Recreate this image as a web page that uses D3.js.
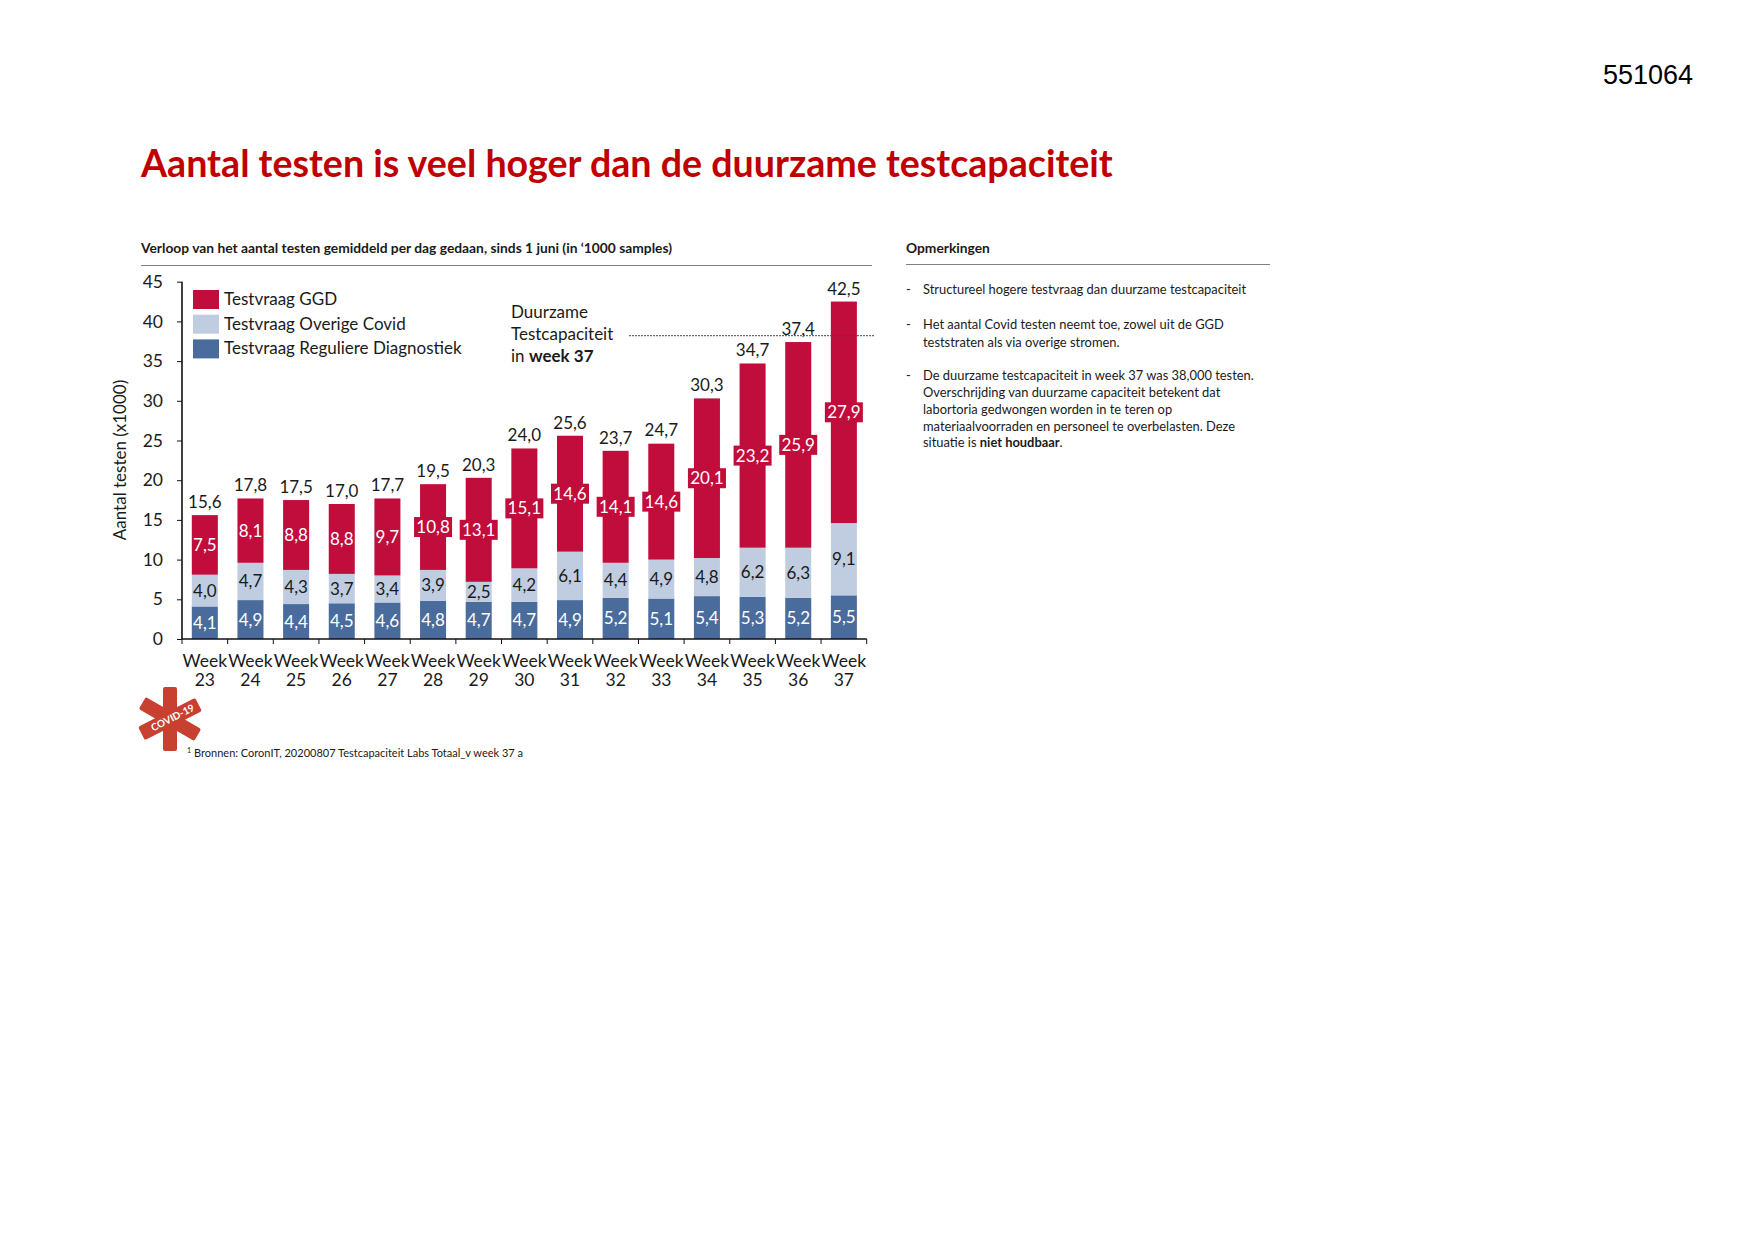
<!DOCTYPE html>
<html><head><meta charset="utf-8">
<script src="https://cdn.jsdelivr.net/npm/d3@7"></script>
<style>
html,body{margin:0;padding:0;background:#fff}
svg{display:block}
text{font-family:Lato,Carlito,"Noto Sans",sans-serif;fill:#1a1a1a}
</style></head><body><svg id="c" width="1754" height="1241"></svg>
<script>
const weeks=["23","24","25","26","27","28","29","30","31","32","33","34","35","36","37"];
const regulier=[4.1,4.9,4.4,4.5,4.6,4.8,4.7,4.7,4.9,5.2,5.1,5.4,5.3,5.2,5.5];
const overig=[4.0,4.7,4.3,3.7,3.4,3.9,2.5,4.2,6.1,4.4,4.9,4.8,6.2,6.3,9.1];
const ggd=[7.5,8.1,8.8,8.8,9.7,10.8,13.1,15.1,14.6,14.1,14.6,20.1,23.2,25.9,27.9];
const totals=[15.6,17.8,17.5,17.0,17.7,19.5,20.3,24.0,25.6,23.7,24.7,30.3,34.7,37.4,42.5];
const capacity=38.2;
const yTicks=[0,5,10,15,20,25,30,35,40,45];
const seriesNames=["Testvraag GGD","Testvraag Overige Covid","Testvraag Reguliere Diagnostiek"];
const seriesColors=["#c00d3b","#c0cce0","#4a6c9c"];
const notes=[
 [[["Structureel hogere testvraag dan duurzame testcapaciteit",0]]],
 [[["Het aantal Covid testen neemt toe, zowel uit de GGD",0]],[["teststraten als via overige stromen.",0]]],
 [[["De duurzame testcapaciteit in week 37 was 38,000 testen.",0]],[["Overschrijding van duurzame capaciteit betekent dat",0]],[["labortoria gedwongen worden in te teren op",0]],[["materiaalvoorraden en personeel te overbelasten. Deze",0]],[["situatie is ",0],["niet houdbaar",1],[".",0]]]
];

const svg=d3.select("#c");
const fmt=v=>d3.format(".1f")(v).replace(".",",");
const x=d3.scaleBand().domain(weeks).range([182,866.7]).paddingInner(0.43).paddingOuter(0.215);
const y=d3.scaleLinear().domain([0,45]).range([639,281.7]);

// headings
svg.append("text").attr("x",1603).attr("y",84).style("font-family","'Liberation Sans',Arial,sans-serif").attr("font-size",27).style("fill","#000").text("551064");
svg.append("text").attr("x",141).attr("y",177).attr("font-size",37.6).attr("font-weight",700).style("fill","#c00000").text("Aantal testen is veel hoger dan de duurzame testcapaciteit");
svg.append("text").attr("x",141).attr("y",253).attr("font-size",13.8).attr("font-weight",700).text("Verloop van het aantal testen gemiddeld per dag gedaan, sinds 1 juni (in ‘1000 samples)");
svg.append("line").attr("x1",141).attr("x2",872).attr("y1",265.5).attr("y2",265.5).attr("stroke","#808080");
svg.append("text").attr("x",906).attr("y",253).attr("font-size",13.8).attr("font-weight",700).text("Opmerkingen");
svg.append("line").attr("x1",906).attr("x2",1270).attr("y1",264.5).attr("y2",264.5).attr("stroke","#808080");

// stacked bars
const rows=weeks.map((w,i)=>({week:w,r:regulier[i],o:overig[i],g:ggd[i],t:totals[i]}));
const stack=d3.stack().keys(["r","o","g"])(rows);
const colorOf={r:seriesColors[2],o:seriesColors[1],g:seriesColors[0]};
const layers=svg.append("g").selectAll("g").data(stack).join("g").attr("fill",d=>colorOf[d.key]);
layers.selectAll("rect").data(d=>d).join("rect")
 .attr("x",d=>x(d.data.week)).attr("width",x.bandwidth())
 .attr("y",d=>y(d[1])).attr("height",d=>y(d[0])-y(d[1]));

// axes
const ay=svg.append("g").attr("transform","translate(182,0)").call(d3.axisLeft(y).tickValues(yTicks).tickSize(5).tickPadding(14));
const tickEdges=d3.range(16);
const xEdge=d3.scaleLinear().domain([0,15]).range([182,866.7]);
ay.selectAll("text").attr("font-size",17.5).style("font-family","Lato");
ay.select(".domain").attr("stroke","#111").attr("stroke-width",1.6).attr("d","M0,281.7V639");
ay.selectAll(".tick line").attr("stroke","#111");
const ax=svg.append("g");
ax.append("line").attr("x1",182).attr("x2",866.7).attr("y1",639).attr("y2",639).attr("stroke","#111").attr("stroke-width",1.6);
ax.selectAll(".t").data(tickEdges).join("line").attr("class","t").attr("x1",d=>xEdge(d)).attr("x2",d=>xEdge(d)).attr("y1",639).attr("y2",644).attr("stroke","#111");
const wk=svg.append("g").attr("font-size",17.5).attr("text-anchor","middle");
weeks.forEach(w=>{
 const cx=x(w)+x.bandwidth()/2;
 wk.append("text").attr("x",cx).attr("y",667).text("Week");
 wk.append("text").attr("x",cx).attr("y",686).text(w);
});
svg.append("text").attr("transform","translate(126,460) rotate(-90)").attr("text-anchor","middle").attr("font-size",17).text("Aantal testen (x1000)");

// segment labels
const lab=svg.append("g").attr("font-size",17).attr("text-anchor","middle");
stack.forEach(layer=>{
 layer.forEach(d=>{
  const cx=x(d.data.week)+x.bandwidth()/2, cy=y((d[0]+d[1])/2), v=d[1]-d[0];
  const val=d.data[layer.key];
  if(layer.key==="g"&&val>=10){
   lab.append("rect").attr("x",cx-19).attr("y",cy-10).attr("width",38).attr("height",20).attr("fill",seriesColors[0]);
  }
  lab.append("text").attr("x",cx).attr("y",cy+6).style("fill",layer.key==="o"?"#1a1a1a":"#fff").text(fmt(val));
 });
});

// totals
svg.append("g").attr("font-size",17).attr("text-anchor","middle").selectAll("text").data(rows).join("text")
 .attr("x",d=>x(d.week)+x.bandwidth()/2).attr("y",d=>y(d.t)-7).text(d=>fmt(d.t));

// capacity line
svg.append("line").attr("x1",629).attr("x2",874).attr("y1",y(capacity)).attr("y2",y(capacity)).attr("stroke","#444").attr("stroke-width",1).attr("stroke-dasharray","2,1");
const cap=svg.append("g").attr("font-size",17);
cap.append("text").attr("x",511).attr("y",318).text("Duurzame");
cap.append("text").attr("x",511).attr("y",340).text("Testcapaciteit");
const c3=cap.append("text").attr("x",511).attr("y",362);
c3.append("tspan").text("in ");
c3.append("tspan").attr("font-weight",700).text("week 37");

// legend
const lg=svg.append("g").selectAll("g").data(seriesNames).join("g").attr("transform",(d,i)=>`translate(193,${290+i*24.7})`);
lg.append("rect").attr("width",26).attr("height",19).attr("fill",(d,i)=>seriesColors[i]);
lg.append("text").attr("x",31).attr("y",15).attr("font-size",17).text(d=>d);

// notes
const baselines=[[294],[329,347],[380,397,414,431,447]];
const nt=svg.append("g").attr("font-size",12.9);
notes.forEach((para,i)=>{
 nt.append("text").attr("x",906).attr("y",baselines[i][0]).text("-");
 para.forEach((line,j)=>{
  const t=nt.append("text").attr("x",923).attr("y",baselines[i][j]);
  line.forEach(([s,b])=>t.append("tspan").attr("font-weight",b?700:400).text(s));
 });
});

// logo
const logo=svg.append("g").attr("transform","translate(170,719)").attr("fill","#c8402f");
logo.append("rect").attr("x",-7).attr("y",-32).attr("width",14).attr("height",64).attr("rx",2);
logo.append("rect").attr("x",-32).attr("y",-7).attr("width",64).attr("height",14).attr("rx",2).attr("transform","rotate(30)");
logo.append("rect").attr("x",-32).attr("y",-7.5).attr("width",64).attr("height",15).attr("rx",2).attr("transform","rotate(-27)");
logo.append("text").attr("transform","rotate(-27) translate(0,3.5)").attr("text-anchor","middle").attr("font-size",10).attr("font-weight",700).style("fill","#fff").attr("x",3).text("COVID-19");

// footnote
const fn=svg.append("text").attr("x",187).attr("y",757).attr("font-size",11);
fn.append("tspan").attr("font-size",7).attr("dy",-4).text("1");
fn.append("tspan").attr("dy",4).attr("dx",3).text("Bronnen: CoronIT, 20200807 Testcapaciteit Labs Totaal_v week 37 a");
</script></body></html>
